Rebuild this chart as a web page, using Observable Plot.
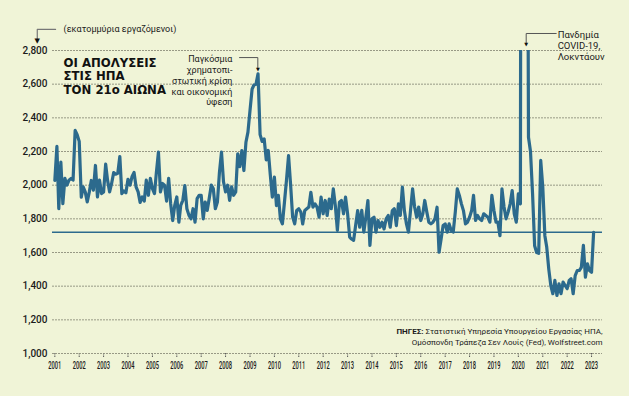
<!DOCTYPE html>
<html><head><meta charset="utf-8">
<script src="https://cdn.jsdelivr.net/npm/d3@7"></script>
<script src="https://cdn.jsdelivr.net/npm/@observablehq/plot@0.6"></script>
<style>
html,body{margin:0;padding:0;background:#f0f4d7;}
#chart{width:629px;height:396px;overflow:hidden;}
svg{overflow:visible;}
</style></head><body><div id="chart"></div>
<script>
// ---- data (thousands of layoffs & discharges, monthly, starting Jan 2001) ----
const startYear = 2001;
const layoffsByYear = [
  /*2001*/ [2028, 2230, 1861, 2137, 1890, 2040, 2000, 2030, 2040, 2030, 2325, 2300],
  /*2002*/ [2260, 1929, 1990, 1960, 1900, 1960, 2028, 1970, 2117, 1930, 2030, 1950],
  /*2003*/ [1960, 2125, 2030, 1960, 2010, 2075, 2065, 2070, 2170, 1950, 1965, 1955],
  /*2004*/ [2035, 2000, 2050, 2075, 1990, 1960, 1898, 1930, 1905, 2030, 1940, 2040],
  /*2005*/ [1980, 1950, 2075, 2196, 1960, 2010, 2000, 1905, 2040, 1890, 1790, 1880],
  /*2006*/ [1930, 1780, 1880, 1910, 1998, 1860, 1822, 1800, 1860, 1780, 1920, 1940],
  /*2007*/ [1940, 1800, 1900, 1850, 1920, 2000, 1980, 1860, 1900, 2075, 2196, 2020],
  /*2008*/ [1960, 2000, 1910, 1990, 1940, 1960, 2186, 2110, 2206, 2087, 2255, 2315],
  /*2009*/ [2444, 2570, 2595, 2600, 2661, 2300, 2260, 2275, 2150, 2206, 2060, 1929],
  /*2010*/ [2048, 1879, 1939, 1800, 1770, 1900, 2030, 2176, 2000, 1810, 1770, 1850],
  /*2011*/ [1860, 1840, 1770, 1850, 1860, 1870, 1958, 1870, 1889, 1870, 1810, 1929],
  /*2012*/ [1830, 1909, 1820, 1917, 1860, 1978, 1880, 1731, 1899, 1909, 1830, 1929],
  /*2013*/ [1830, 1691, 1680, 1672, 1760, 1849, 1750, 1850, 1721, 1810, 1909, 1642],
  /*2014*/ [1800, 1810, 1721, 1790, 1750, 1780, 1740, 1800, 1820, 1750, 1849, 1860],
  /*2015*/ [1760, 1889, 1820, 1988, 1849, 1770, 1721, 1850, 1978, 1870, 1810, 1870],
  /*2016*/ [1790, 1830, 1909, 1840, 1780, 1770, 1780, 1800, 1869, 1602, 1680, 1760],
  /*2017*/ [1770, 1721, 1770, 1731, 1721, 1840, 1978, 1939, 1889, 1849, 1770, 1780],
  /*2018*/ [1810, 1849, 1939, 1790, 1820, 1800, 1790, 1830, 1820, 1810, 1780, 1939],
  /*2019*/ [1849, 1780, 1780, 1700, 1978, 1870, 1800, 1840, 1889, 1968, 1829, 1780],
  /*2020*/ [1949, 1889, 11000, 9000, 6000, 2285, 2200, 1949, 1640, 1600, 1595, 2147],
  /*2021*/ [1988, 1700, 1632, 1500, 1404, 1355, 1434, 1345, 1414, 1355, 1424, 1404],
  /*2022*/ [1385, 1434, 1444, 1355, 1463, 1493, 1493, 1512, 1642, 1453, 1532, 1493],
  /*2023*/ [1483, 1720]
];
const latestValue = 1720;
const yTickValues = [1000, 1200, 1400, 1600, 1800, 2000, 2200, 2400, 2600, 2800];
const yearTickLabels = d3.range(2001, 2024);

const titleText = "ΟΙ ΑΠΟΛΥΣΕΙΣ\nΣΤΙΣ ΗΠΑ\nΤΟΝ 21ο ΑΙΩΝΑ";
const unitText = "(εκατομμύρια εργαζόμενοι)";
const crisisText = "Παγκόσμια\nχρηματοπι-\nστωτική κρίση\nκαι οικονομική\nύφεση";
const covidText = "Πανδημία\nCOVID-19,\nΛοκντάουν";
const sourceLine1 = ["ΠΗΓΕΣ:", " Στατιστική Υπηρεσία Υπουργείου Εργασίας ΗΠΑ,"];
const sourceLine2 = "Ομόσπονδη Τράπεζα Σεν Λουίς (Fed), Wolfstreet.com";

// annotation anchors (fractional year, value)
const crisisConnector = [[2008.57, 2758], [2009.32, 2758], [2009.32, 2690]];
const covidConnector = [[2021.55, 2901], [2020.32, 2901], [2020.32, 2838]];
const unitConnector = [[2001.03, 2925], [2000.28, 2925], [2000.28, 2862]];

// ---- build ----
const MS_YEAR = 365.25 * 86400000;
const fy = (yf) => new Date(Date.UTC(2001, 0, 1) + (yf - 2001) * MS_YEAR);
const data = layoffsByYear.flatMap((vals, yi) =>
  vals.map((v, m) => ({date: new Date(Date.UTC(startYear + yi, m, 1)), value: v})));
const yearDates = yearTickLabels.map((y) => new Date(Date.UTC(y, 0, 1)));
const pts = (arr) => arr.map(([yf, v]) => ({date: fy(yf), value: v}));

const lineColor = "#2c6a8d";
const gridColor = "#8d8f7c";
const ink = "#1b1b1b";

const chart = Plot.plot({
  width: 629,
  height: 396,
  marginLeft: 52,
  marginRight: 27,
  marginTop: 50,
  marginBottom: 43,
  style: {background: "transparent", fontFamily: "Roboto, 'DejaVu Sans', sans-serif", fontSize: "10px", color: ink},
  x: {
    type: "utc",
    domain: [new Date(Date.UTC(2000, 10, 27)), new Date(Date.UTC(2023, 5, 14))],
    ticks: yearDates,
    tickFormat: d3.utcFormat("%Y"),
    tickSize: 5,
    tickPadding: 3,
    label: null
  },
  y: {
    domain: [1000, 2800],
    ticks: yTickValues,
    tickFormat: d3.format(","),
    tickSize: 0,
    tickPadding: 5,
    label: null
  },
  marks: [
    Plot.ruleY(yTickValues, {stroke: gridColor, strokeWidth: 0.9, strokeDasharray: "2,1"}),
    Plot.ruleY([latestValue], {stroke: lineColor, strokeWidth: 1.6}),
    Plot.line(data, {x: "date", y: "value", stroke: lineColor, strokeWidth: 3.2, clip: true, strokeLinejoin: "round"}),
    // title
    Plot.text([titleText], {x: fy(2001.36), y: 2762, text: (d) => d, textAnchor: "start", lineAnchor: "top",
      fontFamily: "'DejaVu Sans Condensed', 'DejaVu Sans', sans-serif", fontWeight: "bold", fontSize: 13, lineHeight: 1.06, fill: "#111"}),
    // unit label + connector
    Plot.text([unitText], {x: fy(2001.36), y: 2925, text: (d) => d, textAnchor: "start", fontSize: 9, fill: ink}),
    Plot.line(pts(unitConnector), {x: "date", y: "value", stroke: "#777", strokeWidth: 1.2}),
    Plot.text([pts(unitConnector)[2]], {x: "date", y: "value", text: () => "▼", fontSize: 7, fill: "#111", dy: 1}),
    // crisis annotation
    Plot.text([crisisText], {x: fy(2008.28), y: 2776, text: (d) => d, textAnchor: "end", lineAnchor: "top", fontSize: 9, lineHeight: 1.2, fill: ink}),
    Plot.line(pts(crisisConnector), {x: "date", y: "value", stroke: "#555", strokeWidth: 1}),
    Plot.text([pts(crisisConnector)[2]], {x: "date", y: "value", text: () => "▼", fontSize: 5, fill: "#111"}),
    // covid annotation
    Plot.text([covidText], {x: fy(2021.61), y: 2922, text: (d) => d, textAnchor: "start", lineAnchor: "top", fontSize: 9.5, lineHeight: 1.15, fill: ink}),
    Plot.line(pts(covidConnector), {x: "date", y: "value", stroke: "#555", strokeWidth: 1}),
    Plot.text([pts(covidConnector)[2]], {x: "date", y: "value", text: () => "▼", fontSize: 5, fill: "#111"}),
    // sources
    Plot.text([sourceLine1.join("")], {frameAnchor: "bottom-right", dy: -20, text: (d) => d, textAnchor: "end", fontSize: 8, fill: ink}),
    Plot.text([sourceLine2], {frameAnchor: "bottom-right", dy: -9, text: (d) => d, textAnchor: "end", fontSize: 8, fill: ink})
  ]
});

document.getElementById("chart").appendChild(chart);

// condense the year labels
chart.querySelectorAll('g[aria-label^="x-axis"] text').forEach((t) => {
  t.setAttribute("textLength", 13);
  t.setAttribute("lengthAdjust", "spacingAndGlyphs");
  t.style.fontWeight = "500";
  t.style.fontSize = "10.5px";
});
chart.querySelectorAll('g[aria-label^="y-axis"] text').forEach((t) => {
  t.style.fontWeight = "500";
});
chart.querySelectorAll('g[aria-label^="x-axis"] line, g[aria-label^="x-axis"] path').forEach((l) => {
  l.setAttribute("stroke", "#555");
  l.setAttribute("stroke-dasharray", "1.5,1");
});
// bold "ΠΗΓΕΣ:" in the source line
chart.querySelectorAll("text").forEach((t) => {
  if (t.textContent === sourceLine1.join("")) {
    t.textContent = "";
    const ns = "http://www.w3.org/2000/svg";
    const b = document.createElementNS(ns, "tspan");
    b.setAttribute("font-weight", "bold");
    b.textContent = sourceLine1[0];
    const r = document.createElementNS(ns, "tspan");
    r.textContent = sourceLine1[1];
    t.appendChild(b); t.appendChild(r);
  }
});
</script>
</body></html>
